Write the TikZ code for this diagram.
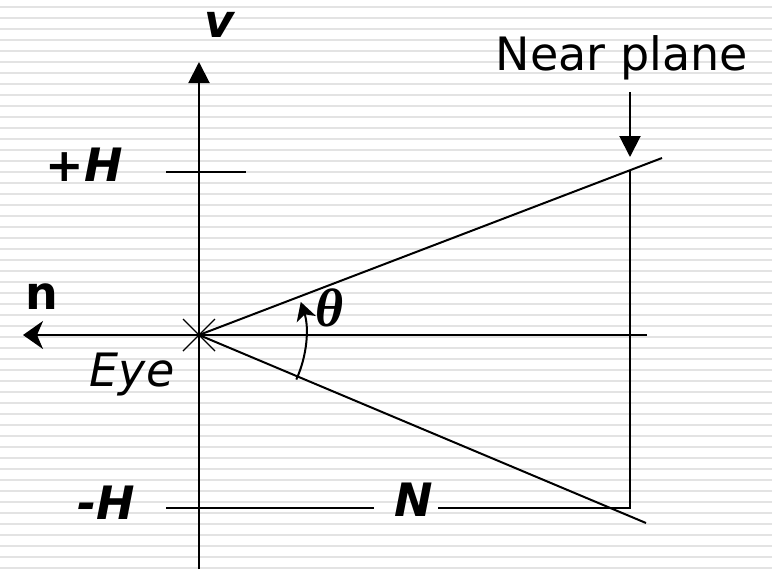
\documentclass[tikz,border=0pt]{standalone}
\usepackage{fontspec}
\setmainfont{DejaVu Sans}
\newfontfamily\thetafont{Liberation Serif}
\usetikzlibrary{arrows.meta}

\begin{document}
\begin{tikzpicture}[
        x=0.5pt, y=-0.5pt, line width=1pt,
        lbl/.style={inner sep=0pt, font=\fontsize{23}{27}\selectfont},
        bl/.style={inner sep=0pt, font=\fontsize{23}{27}\selectfont\bfseries\itshape},
        stripe/.style={line width=1pt, draw=black!11},
        tip/.style={-{Triangle[length=10.5pt,width=10.5pt]}}
    ]
    \useasboundingbox (0,0) rectangle (772,569);
    \fill[white] (0,0) rectangle (772,569);
    \foreach \k in {0,...,51}
        \draw[stripe] (0,{7+11*\k}) -- (772,{7+11*\k});

    \coordinate (eye)  at (199,335);
    \coordinate (vtop) at (199,62);
    \coordinate (vbot) at (199,569);
    \coordinate (nend) at (23,335);
    \coordinate (hend) at (647,335);
    \coordinate (phl)  at (166,172);
    \coordinate (phr)  at (246,172);
    \coordinate (mhl)  at (166,508);
    \coordinate (nl)   at (374,508);
    \coordinate (nr)   at (438,508);
    \coordinate (ptop) at (630,170);
    \coordinate (pbot) at (630,508);
    \coordinate (uend) at (662,158);
    \coordinate (lend) at (646,523);
    \coordinate (arrtop) at (630,92);
    \coordinate (arrtip) at (630,157);
    \coordinate (th0)  at ([shift={(24.6:107)}]eye);

    \node[bl] (v)  at (219,25)  {v};
    \node[bl] (ph) at (84,165)  {+H};
    \node[bl] (mh) at (106,503) {-H};
    \node[bl] (nn) at (414,500) {N};
    \node[lbl, font=\fontsize{23}{27}\selectfont\bfseries] (n) at (42,297) {n};
    \node[lbl, font=\fontsize{23}{27}\selectfont\itshape] (eyelbl) at (132,375) {Eye};
    \node[lbl] (near) at (622,58) {Near plane};
    \node[inner sep=0pt, font=\thetafont\fontsize{27}{30}\selectfont\bfseries\itshape] (th) at (330,308) {θ};

    % axes
    \draw[tip] (vbot) -- (vtop);
    \draw[-{Stealth[length=10pt,width=14pt,inset=3pt]}] (hend) -- (nend);
    \draw (phl) -- (phr);
    \draw (mhl) -- (nl);
    \draw (nr) -- (pbot) -- (ptop);

    % view volume
    \draw (eye) -- (uend);
    \draw (eye) -- (lend);
    \draw[line width=0.7pt] ([shift={(-16,-16)}]eye) -- ([shift={(16,16)}]eye);
    \draw[line width=0.7pt] ([shift={(16,-16)}]eye) -- ([shift={(-16,16)}]eye);
    \draw[-{Stealth[length=9pt,width=10pt,inset=2.5pt]}] (th0) arc[start angle=24.6, end angle=-18, radius=107];
    \draw[tip] (arrtop) -- (arrtip);
\end{tikzpicture}
\end{document}
